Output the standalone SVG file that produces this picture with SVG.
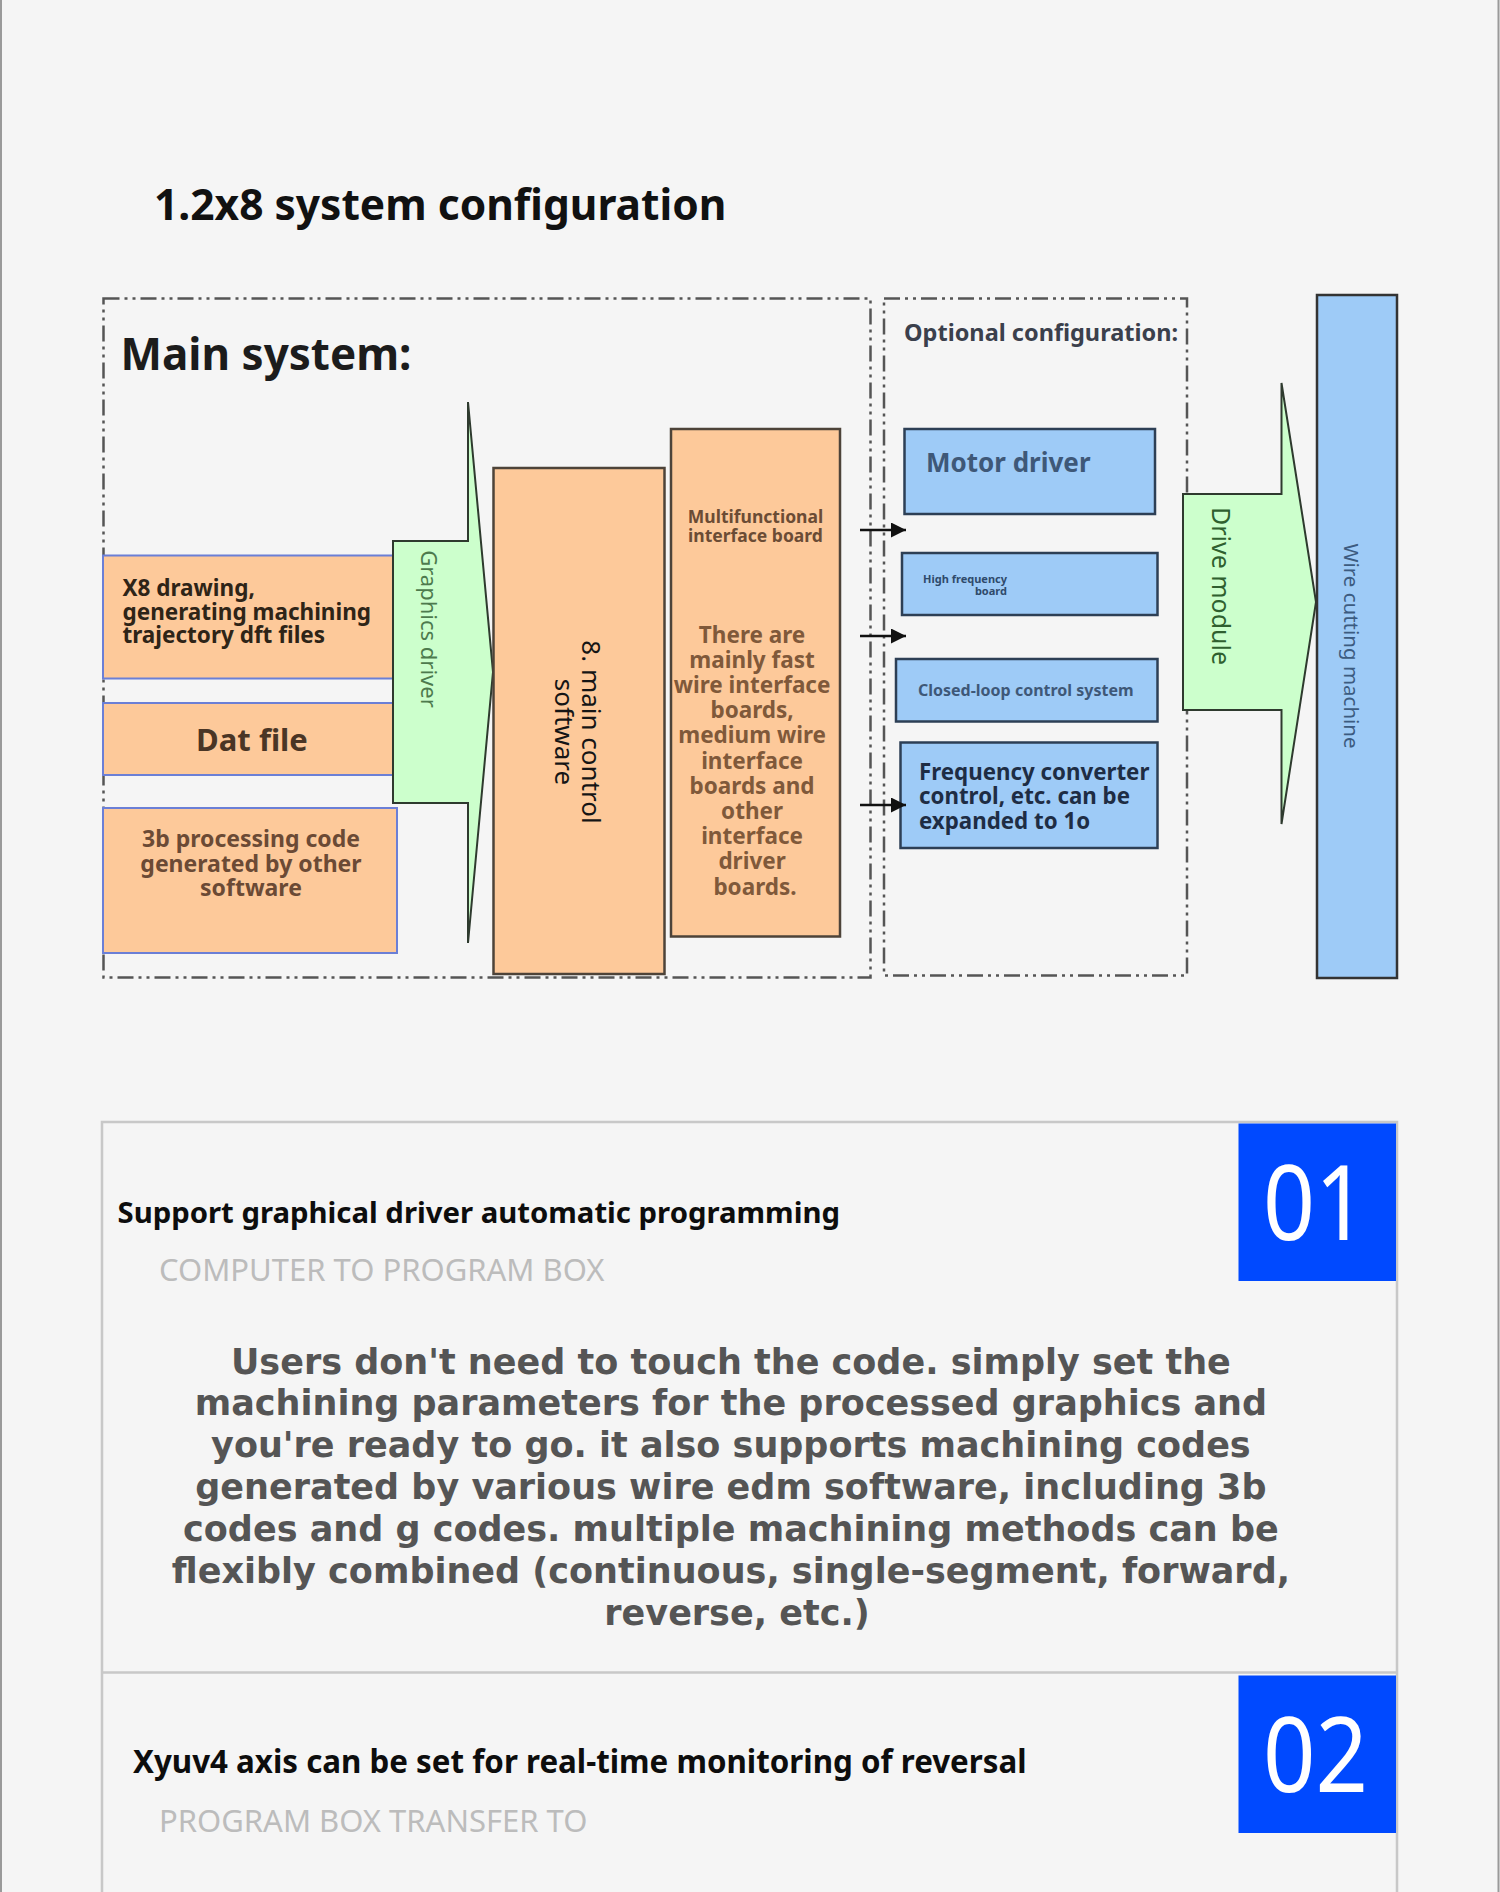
<svg xmlns="http://www.w3.org/2000/svg" width="1500" height="1892" viewBox="0 0 1500 1892">
<defs>
<marker id="ah" markerWidth="15" markerHeight="15" refX="15" refY="7.5" orient="auto" markerUnits="userSpaceOnUse"><path d="M0,0 L15,7.5 L0,15 Z" fill="#111"/></marker>
<style>
.nb{font-family:"Noto Sans","DejaVu Sans",sans-serif;font-weight:700}
.nr{font-family:"Noto Sans","DejaVu Sans",sans-serif;font-weight:400}
.dv{font-family:"DejaVu Sans","Noto Sans",sans-serif;font-weight:700}
.dash{fill:none;stroke:#555;stroke-width:2.5;stroke-dasharray:16 5 3 5 3 5}
.lbox{fill:#fdc99a;stroke:#6b7fd6;stroke-width:2}
.pbox{fill:#fdc99a;stroke:#4d4339;stroke-width:2.5}
.blue{fill:#9ecbf7;stroke:#2d3f55;stroke-width:2.5}
.green{fill:#ccffcc;stroke:#2e3a2e;stroke-width:2;stroke-linejoin:miter}
.card{stroke:#c8c8c8;stroke-width:2.5;fill:none}
.badge{fill:#0049ff}
.conn{stroke:#111;stroke-width:2.5;fill:none}
</style>
</defs>
<rect x="0" y="0" width="1500" height="1892" fill="#f5f5f5"/>
<line x1="1" y1="0" x2="1" y2="1892" stroke="#9a9a9a" stroke-width="2"/>
<line x1="1498.5" y1="0" x2="1498.5" y2="1892" stroke="#9a9a9a" stroke-width="2"/>

<g id="title">
<text class="nb" x="154" y="219.5" font-size="42.5" fill="#111">1.2x8 system configuration</text>
</g>

<g id="main-system">
<rect class="dash" x="103.5" y="298.5" width="767" height="679"/>
<text class="nb" x="120.5" y="369.5" font-size="44" fill="#1c1c1c">Main system:</text>
</g>

<g id="optional-configuration">
<rect class="dash" x="884" y="298.5" width="303" height="677"/>
<text class="nb" x="904" y="341" font-size="23.5" fill="#3b404c">Optional configuration:</text>
</g>

<g id="x8-drawing">
<rect class="lbox" x="103" y="555.5" width="290" height="123"/>
<text class="nb" font-size="22.5" fill="#2e2417"><tspan x="122.5" y="596">X8 drawing,</tspan><tspan x="122.5" y="619.5">generating machining</tspan><tspan x="122.5" y="643">trajectory dft files</tspan></text>
</g>

<g id="dat-file">
<rect class="lbox" x="103" y="703" width="290" height="72"/>
<text class="nb" x="252" y="750.5" font-size="31" fill="#4a3525" text-anchor="middle">Dat file</text>
</g>

<g id="3b-code">
<rect class="lbox" x="103" y="808" width="294" height="145"/>
<text class="nb" font-size="23" fill="#6b4a35" text-anchor="middle"><tspan x="251" y="847">3b processing code</tspan><tspan x="251" y="872">generated by other</tspan><tspan x="251" y="896">software</tspan></text>
</g>

<g id="graphics-driver">
<path class="green" d="M393,541 H468 V402 L493,672 L468,943 V803 H393 Z"/>
<text class="nr" transform="translate(421,629) rotate(90)" font-size="22" fill="#4d7a4d" text-anchor="middle">Graphics driver</text>
</g>

<g id="main-control-software">
<rect class="pbox" x="493.5" y="468" width="171" height="506"/>
<text class="nr" transform="translate(582,732) rotate(90)" font-size="26" fill="#151515" text-anchor="middle"><tspan x="0" y="0">8. main control</tspan><tspan x="0" y="27">software</tspan></text>
</g>

<g id="multifunctional-board">
<rect class="pbox" x="671" y="429" width="169" height="507.5"/>
<text class="nb" font-size="17.5" fill="#6b4c35" text-anchor="middle"><tspan x="755.5" y="523">Multifunctional</tspan><tspan x="755.5" y="541.5">interface board</tspan></text>
<text class="nb" font-size="22.5" fill="#80593a" text-anchor="middle">
<tspan x="755" y="642.5">There are</tspan>
<tspan x="755" y="667.7">mainly fast</tspan>
<tspan x="755" y="692.9">wire interface</tspan>
<tspan x="755" y="718.1">boards,</tspan>
<tspan x="755" y="743.3">medium wire</tspan>
<tspan x="755" y="768.5">interface</tspan>
<tspan x="755" y="793.7">boards and</tspan>
<tspan x="755" y="818.9">other</tspan>
<tspan x="755" y="844.1">interface</tspan>
<tspan x="755" y="869.3">driver</tspan>
<tspan x="755" y="894.5">boards.</tspan>
</text>
</g>

<g id="motor-driver">
<rect class="blue" x="904.5" y="429" width="250.5" height="85"/>
<text class="nb" x="926" y="472" font-size="26" fill="#3e5878">Motor driver</text>
</g>

<g id="high-frequency-board">
<rect class="blue" x="902" y="553" width="255.5" height="62"/>
<text class="nb" font-size="11" fill="#2f4a6b" text-anchor="end"><tspan x="1007" y="583">High frequency</tspan><tspan x="1007" y="594.5">board</tspan></text>
</g>

<g id="closed-loop">
<rect class="blue" x="896" y="659" width="261.5" height="62.5"/>
<text class="nb" x="918" y="695.5" font-size="16" fill="#3e5878">Closed-loop control system</text>
</g>

<g id="frequency-converter">
<rect class="blue" x="900.5" y="742.5" width="257" height="105.5"/>
<text class="nb" font-size="22.3" fill="#1e2d44"><tspan x="919" y="779.5">Frequency converter</tspan><tspan x="919" y="804.3">control, etc. can be</tspan><tspan x="919" y="829">expanded to 1o</tspan></text>
</g>

<g id="drive-module">
<path class="green" d="M1183,494 H1281.5 V383 L1316,602 L1281.5,824 V710 H1183 Z"/>
<text class="nr" transform="translate(1212,586) rotate(90)" font-size="25" fill="#2f5f2f" text-anchor="middle">Drive module</text>
</g>

<g id="wire-cutting-machine">
<rect x="1317" y="295" width="80" height="683" fill="#9ecbf7" stroke="#333" stroke-width="2.5"/>
<text class="nr" transform="translate(1344,646) rotate(90)" font-size="20.5" fill="#3c5b80" text-anchor="middle">Wire cutting machine</text>
</g>

<g id="connectors">
<line class="conn" x1="860" y1="530" x2="906" y2="530" marker-end="url(#ah)"/>
<line class="conn" x1="860" y1="636" x2="906" y2="636" marker-end="url(#ah)"/>
<line class="conn" x1="860" y1="805" x2="906" y2="805" marker-end="url(#ah)"/>
</g>

<g id="card-frame">
<path class="card" d="M102,1892 V1122 H1397 V1892 M102,1672.5 H1397"/>
</g>

<g id="card-01">
<rect class="badge" x="1238.5" y="1123.5" width="157.5" height="157.5"/>
<text class="nr" x="1315" y="1240" font-size="105" fill="#fff" text-anchor="middle" textLength="104" lengthAdjust="spacingAndGlyphs">01</text>
<text class="nb" x="117.5" y="1222.5" font-size="29.3" fill="#0d0d0d">Support graphical driver automatic programming</text>
<text class="nr" x="159" y="1281" font-size="31" fill="#bcbcbc">COMPUTER TO PROGRAM BOX</text>
<text class="dv" font-size="35" fill="#555" text-anchor="middle">
<tspan x="737" y="1373.5">Users don't need to touch the code. simply set the</tspan>
<tspan x="737" y="1415.4">machining parameters for the processed graphics and</tspan>
<tspan x="737" y="1457.3">you're ready to go. it also supports machining codes</tspan>
<tspan x="737" y="1499.2">generated by various wire edm software, including 3b</tspan>
<tspan x="737" y="1541.1">codes and g codes. multiple machining methods can be</tspan>
<tspan x="737" y="1583">flexibly combined (continuous, single-segment, forward,</tspan>
<tspan x="737" y="1624.9">reverse, etc.)</tspan>
</text>
</g>

<g id="card-02">
<rect class="badge" x="1238.5" y="1675.5" width="157.5" height="157.5"/>
<text class="nr" x="1315.5" y="1791.5" font-size="105" fill="#fff" text-anchor="middle" textLength="105" lengthAdjust="spacingAndGlyphs">02</text>
<text class="nb" x="133" y="1772.5" font-size="31.3" fill="#0d0d0d">Xyuv4 axis can be set for real-time monitoring of reversal</text>
<text class="nr" x="159" y="1831.5" font-size="31" fill="#bcbcbc">PROGRAM BOX TRANSFER TO</text>
</g>
</svg>
